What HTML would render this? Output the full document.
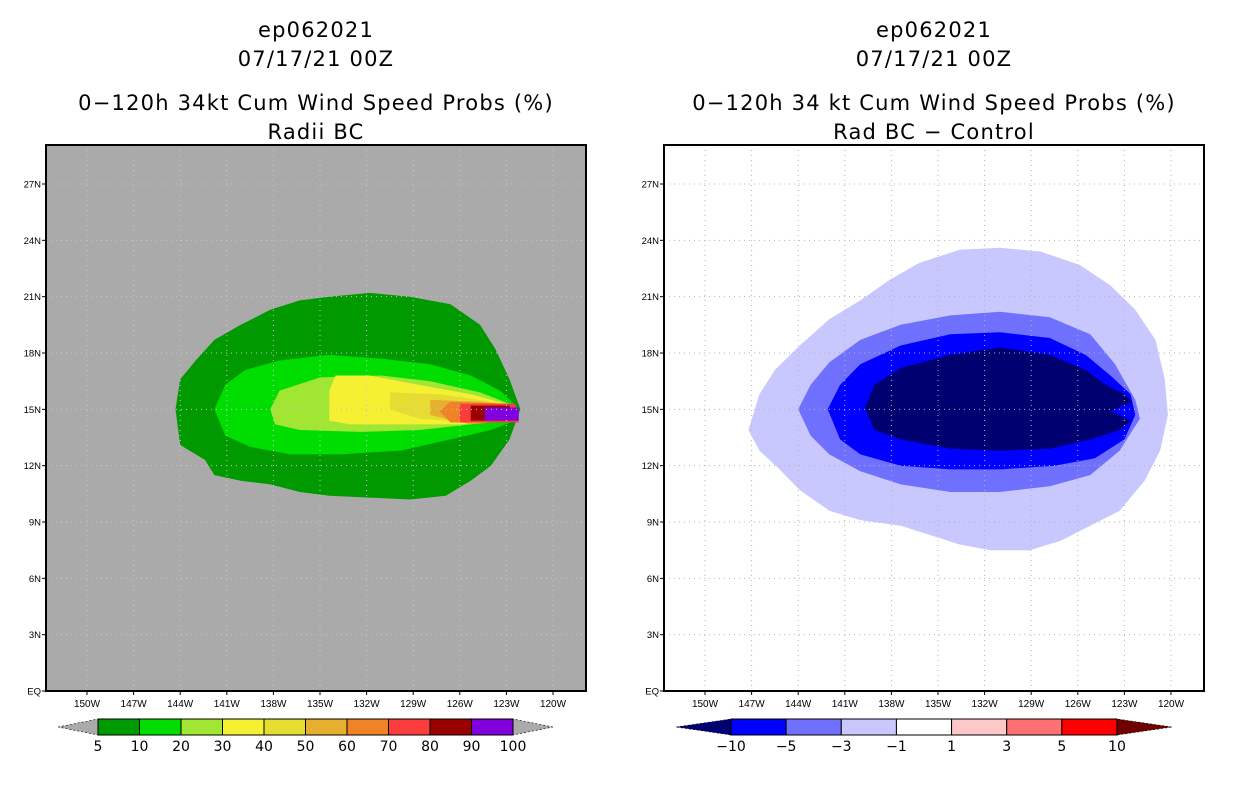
<!DOCTYPE html>
<html><head><meta charset="utf-8">
<style>
body{margin:0;background:#fff;width:1236px;height:800px;overflow:hidden;font-family:"Liberation Sans",sans-serif}
svg{display:block}
</style></head>
<body>
<svg id="chart" width="1236" height="800" xmlns="http://www.w3.org/2000/svg"></svg>
<script>
// ---- data ----
const latTicks=[0,3,6,9,12,15,18,21,24,27];
const latLabels=["EQ","3N","6N","9N","12N","15N","18N","21N","24N","27N"];
const lonTicks=[-150,-147,-144,-141,-138,-135,-132,-129,-126,-123,-120];
const lonLabels=["150W","147W","144W","141W","138W","135W","132W","129W","126W","123W","120W"];
const leftLevels=["5","10","20","30","40","50","60","70","80","90","100"];
const leftColors=["#009900","#00dd00","#a0e632","#f5f032","#e6dc32","#e6af2d","#f08228","#fa3c3c","#990000","#8200dc"];
const rightLevels=["-10","-5","-3","-1","1","3","5","10"];
const rightColors=["#0000ff","#7070ff","#c8c8ff","#ffffff","#ffc8c8","#ff7070","#ff0000"];
// contour polygons (lon, lat pairs) for left panel, by level index
const L0=[[-144.3,15.0],[-144.0,16.6],[-143.0,17.6],[-141.8,18.7],[-140.1,19.5],[-138.2,20.3],[-136.3,20.8],[-134.4,21.0],[-131.8,21.2],[-129.2,21.0],[-126.6,20.6],[-124.7,19.5],[-123.7,18.2],[-122.8,16.6],[-122.1,15.0],[-122.8,13.4],[-124.0,12.0],[-125.3,11.2],[-126.9,10.4],[-129.2,10.2],[-131.8,10.3],[-134.4,10.4],[-136.3,10.6],[-138.2,11.0],[-140.1,11.2],[-141.8,11.5],[-142.4,12.3],[-144.0,13.1]];
const L1=[[-141.8,15.0],[-141.1,16.3],[-139.8,17.1],[-137.6,17.6],[-134.4,17.9],[-131.1,17.7],[-127.9,17.4],[-125.3,16.8],[-123.4,16.0],[-122.4,15.2],[-122.4,14.4],[-124.0,13.9],[-126.6,13.4],[-129.8,12.8],[-133.7,12.6],[-136.9,12.6],[-139.5,13.0],[-141.1,13.6]];
const L2=[[-138.2,15.0],[-137.6,16.0],[-135.0,16.7],[-131.1,16.8],[-127.9,16.5],[-124.7,15.9],[-122.8,15.3],[-122.4,14.7],[-125.3,14.2],[-128.6,13.9],[-132.4,13.8],[-136.3,13.9],[-137.9,14.2]];
const L3=[[-134.4,16.0],[-134.0,16.8],[-131.8,16.8],[-128.6,16.3],[-125.3,15.8],[-122.6,15.2],[-122.6,14.4],[-126.0,14.2],[-129.8,14.2],[-133.1,14.2],[-134.4,14.4]];
const L4=[[-130.5,15.9],[-127.3,15.8],[-124.7,15.5],[-122.6,15.2],[-122.6,14.4],[-125.3,14.3],[-128.6,14.5],[-130.5,15.0]];
const L5=[[-127.9,15.5],[-124.7,15.4],[-122.6,15.2],[-122.6,14.4],[-125.3,14.2],[-127.9,14.7]];
const L6=[[-126.6,15.4],[-122.6,15.3],[-122.4,14.3],[-126.6,14.3],[-127.3,14.9]];
const L7=[[-126.0,15.3],[-122.4,15.3],[-122.2,14.3],[-126.0,14.3]];
const L8=[[-125.3,15.2],[-122.8,15.2],[-122.6,14.4],[-125.3,14.4]];
const L9=[[-124.4,15.1],[-122.2,15.1],[-122.2,14.4],[-124.4,14.4]];
const leftPolys=[L0,L1,L2,L3,L4,L5,L6,L7,L8,L9];
// right panel polygons (difference), colors
const R0=[[-147.2,13.9],[-146.5,15.8],[-145.5,17.1],[-143.9,18.4],[-142.0,19.8],[-140.0,20.8],[-138.1,21.9],[-136.2,22.8],[-133.6,23.5],[-131.0,23.6],[-128.4,23.4],[-125.9,22.7],[-123.9,21.6],[-122.3,20.3],[-121.0,18.7],[-120.4,16.6],[-120.2,14.7],[-120.7,12.8],[-121.7,11.2],[-123.3,9.6],[-125.2,8.8],[-127.1,8.0],[-129.1,7.5],[-131.6,7.5],[-133.6,7.8],[-135.5,8.3],[-137.4,8.8],[-140.0,9.1],[-142.0,9.6],[-143.9,10.7],[-145.2,11.8],[-146.5,12.8]];
const R1=[[-144.0,15.0],[-143.2,16.3],[-142.0,17.5],[-140.0,18.7],[-137.4,19.5],[-134.2,20.0],[-131.0,20.2],[-127.8,19.9],[-125.2,19.0],[-123.6,17.4],[-122.3,15.5],[-122.0,14.5],[-123.3,12.8],[-125.2,11.5],[-127.8,10.9],[-131.0,10.6],[-134.2,10.6],[-137.4,11.0],[-140.0,11.7],[-142.0,12.6],[-143.2,13.6]];
const R2=[[-142.1,15.0],[-141.3,16.3],[-140.0,17.4],[-137.4,18.4],[-134.2,19.0],[-131.0,19.1],[-127.8,18.8],[-125.5,17.9],[-123.9,16.8],[-122.6,15.8],[-122.3,14.7],[-123.0,13.4],[-124.9,12.4],[-127.5,12.0],[-131.0,11.8],[-134.2,11.8],[-137.4,12.0],[-140.0,12.6],[-141.3,13.4]];
const R3=[[-139.7,15.1],[-139.1,16.3],[-137.4,17.2],[-134.2,17.9],[-131.0,18.3],[-127.8,17.9],[-125.5,17.1],[-124.2,16.3],[-123.0,15.8],[-122.5,15.4],[-123.9,14.9],[-122.6,14.4],[-123.3,13.9],[-125.2,13.4],[-127.8,12.9],[-131.0,12.8],[-134.2,12.9],[-137.4,13.4],[-139.1,13.9]];
const rightPolys=[R0,R1,R2,R3];
const rightPolyColors=["#c8c8ff","#7070ff","#0000ff","#000070"];

// ---- axes ----
const NS="http://www.w3.org/2000/svg";
const svg=document.getElementById('chart');
function mk(tag,attrs,parent){const e=document.createElementNS(NS,tag);for(const k in attrs)e.setAttribute(k,attrs[k]);(parent||svg).appendChild(e);return e;}
const y=lat=>691-lat*(691-184)/27;
const panels=[{x0:46,x1:586,lon150:87,bg:"#aaaaaa",grid:"#c8c8c8",name:"left"},{x0:664,x1:1204,lon150:705,bg:"#ffffff",grid:"#b4b4b4",name:"right"}];
function xf(p){return lon=>p.lon150+(lon+150)*(466/30);}
function pts(poly,X){return poly.map(q=>X(q[0]).toFixed(1)+","+y(q[1]).toFixed(1)).join(" ");}

const titles=[["ep062021","07/17/21 00Z","0\u2212120h 34kt Cum Wind Speed Probs (%)","Radii BC"],["ep062021","07/17/21 00Z","0\u2212120h 34 kt Cum Wind Speed Probs (%)","Rad BC \u2212 Control"]];
const titleY=[37,66,110,139];

panels.forEach((p,pi)=>{
  const X=xf(p);
  const g=mk('g',{});
  
  
  const cx=(p.x0+p.x1)/2;
  titles[pi].forEach((t,i)=>{
    const tx=mk('text',{x:cx,y:titleY[i],'text-anchor':'middle','font-size':21,'letter-spacing':'1.2','font-family':'"DejaVu Sans","Liberation Sans",sans-serif',fill:'#000'},g);
    tx.textContent=t;
    
    
  });
  const clipId='clip'+pi;
  const cp=mk('clipPath',{id:clipId},g);
  mk('rect',{x:p.x0,y:145,width:p.x1-p.x0,height:546},cp);
  const bg=mk('rect',{x:p.x0,y:145,width:p.x1-p.x0,height:546,fill:p.bg},g);
  
  
  const polys=pi===0?leftPolys:rightPolys;
  const cols=pi===0?leftColors:rightPolyColors;
  polys.forEach((poly,i)=>{
    const e=mk('polygon',{points:pts(poly,X),fill:cols[i],'clip-path':'url(#'+clipId+')'},g);
    
    
  });
  lonTicks.forEach((lon,i)=>{
    const gx=X(lon);
    mk('line',{x1:gx,x2:gx,y1:145,y2:691,stroke:p.grid,'stroke-width':1,'stroke-dasharray':'1,4'},g);
    mk('line',{x1:gx,x2:gx,y1:691,y2:695,stroke:'#000'},g);
    const t=mk('text',{x:gx,y:707,'text-anchor':'middle','font-size':10,'font-family':'"Liberation Sans",sans-serif'},g);
    t.textContent=lonLabels[i];
    
    
  });
  latTicks.forEach((lat,i)=>{
    const gy=y(lat);
    if(lat>0)mk('line',{x1:p.x0,x2:p.x1,y1:gy,y2:gy,stroke:p.grid,'stroke-width':1,'stroke-dasharray':'1,4'},g);
    mk('line',{x1:p.x0-4,x2:p.x0,y1:gy,y2:gy,stroke:'#000'},g);
    const t=mk('text',{x:p.x0-5,y:gy+3.5,'text-anchor':'end','font-size':9.5,'font-family':'"Liberation Sans",sans-serif'},g);
    t.textContent=latLabels[i];
    
    
  });
  const fr=mk('rect',{x:p.x0,y:145,width:p.x1-p.x0,height:546,fill:'none',stroke:'#000','stroke-width':2},g);
  
  
});

// ---- colorbars ----
function colorbar(bx0,bx1,tipL,tipR,levels,colors,leftTip,rightTip,name){
  const g=mk('g',{});
  
  
  const yt=719,yb=735,ym=727;
  const n=colors.length,w=(bx1-bx0)/n;
  mk('polygon',{points:`${tipL},${ym} ${bx0},${yt} ${bx0},${yb}`,fill:leftTip,stroke:'#000','stroke-width':0.6,'stroke-dasharray':'2,2'},g);
  mk('polygon',{points:`${tipR},${ym} ${bx1},${yt} ${bx1},${yb}`,fill:rightTip,stroke:'#000','stroke-width':0.6,'stroke-dasharray':'2,2'},g);
  colors.forEach((c,i)=>{
    const r=mk('rect',{x:bx0+i*w,y:yt,width:w,height:yb-yt,fill:c,stroke:'#000','stroke-width':1},g);
    
    
  });
  levels.forEach((l,i)=>{
    const t=mk('text',{x:bx0+i*w,y:751,'text-anchor':'middle','font-size':14,'font-family':'"DejaVu Sans","Liberation Sans",sans-serif'},g);
    t.textContent=l.replace('-','\u2212');
    
    
  });
}
colorbar(98,513,58,553,leftLevels,leftColors,"#aaaaaa","#aaaaaa","left-colorbar");
colorbar(731,1117,676,1172,rightLevels,rightColors,"#000070","#700000","right-colorbar");
</script>
</body></html>
